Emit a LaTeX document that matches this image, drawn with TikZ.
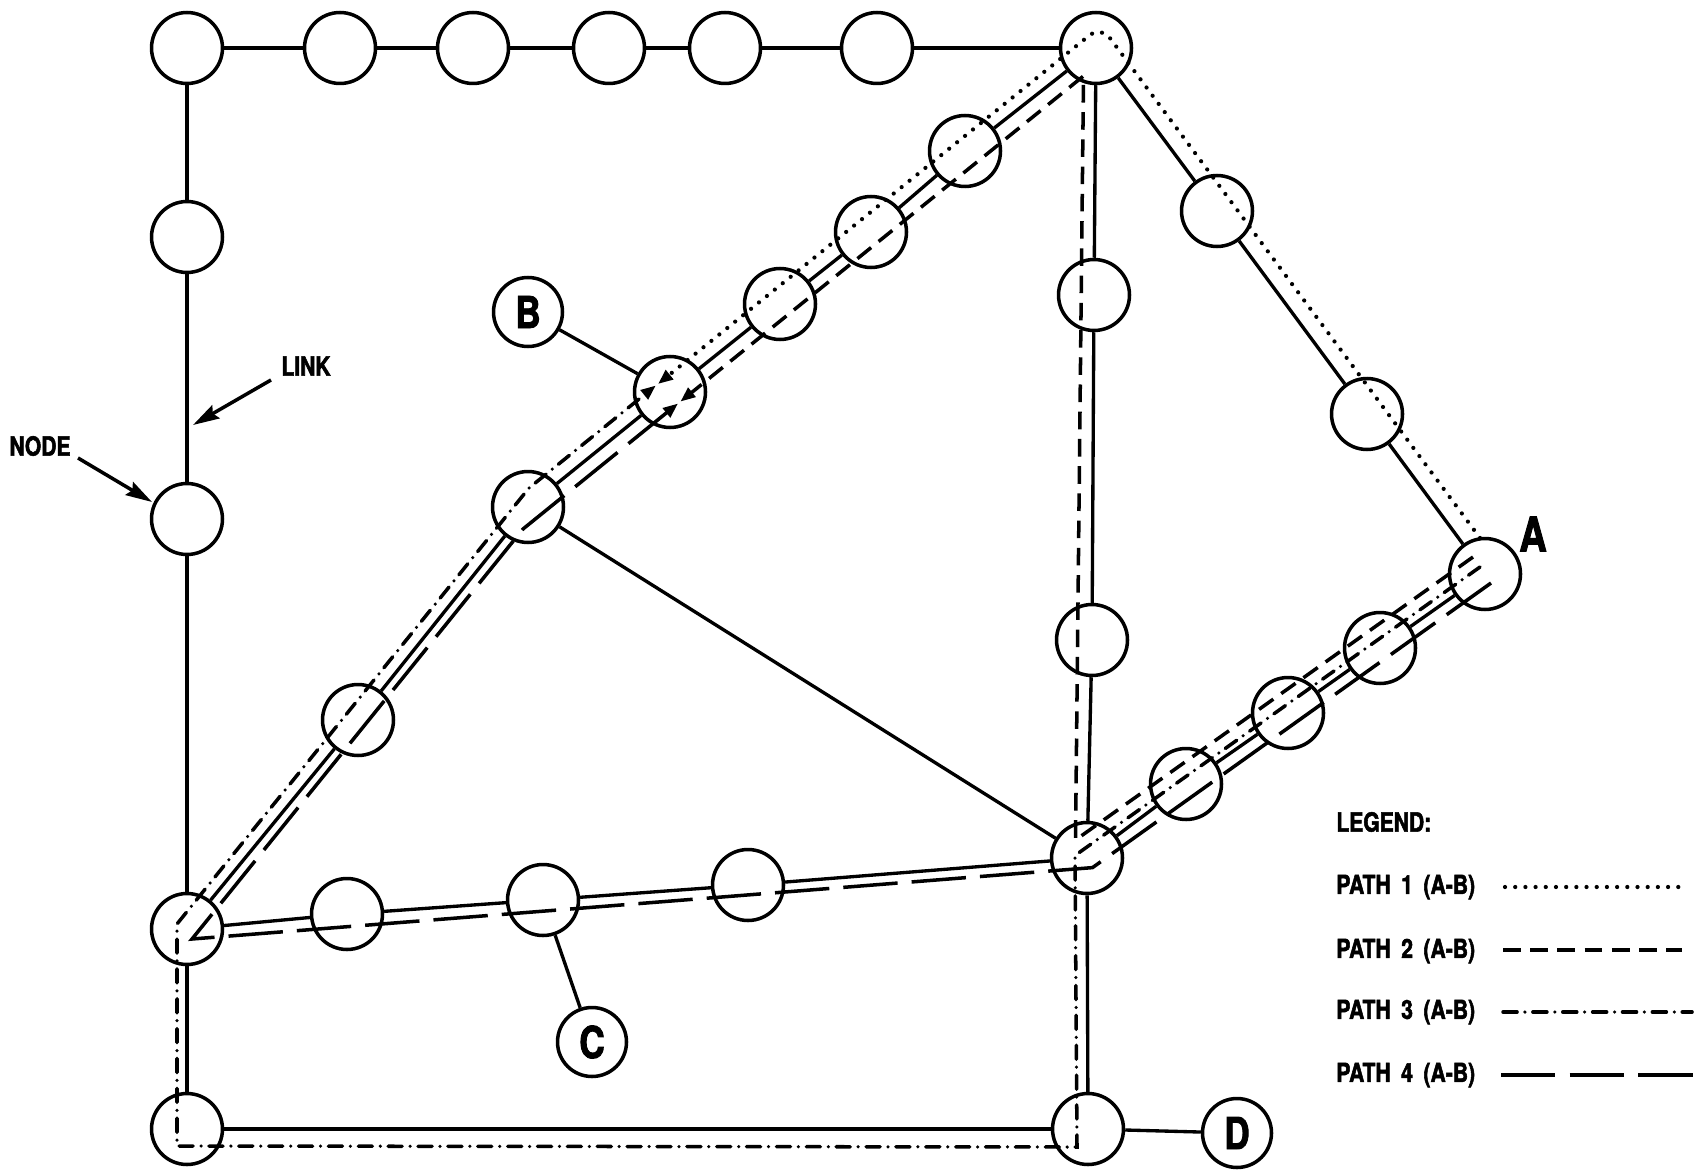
\documentclass[tikz,border=0pt]{standalone}
\usepackage{fontspec}
\newfontfamily\lblfont[FakeStretch=0.8,FakeBold=2]{TeX Gyre Heros}
\usetikzlibrary{arrows.meta,calc}

\tikzset{
  nd/.style={circle,draw,fill=white,line width=2pt,minimum size=1.42cm,inner sep=0pt},
  lbl/.style={nd,minimum size=1.38cm,font=\lblfont\bfseries\fontsize{25}{25}\selectfont},
  lnk/.style={line width=1.9pt},
  pone/.style={line width=2.4pt,line cap=round,dash pattern=on 0pt off 5.8pt},
  ptwo/.style={line width=2pt,dash pattern=on 10pt off 5.5pt},
  pthree/.style={line width=2pt,line cap=round,dash pattern=on 8pt off 4.5pt on 0pt off 4.5pt},
  pfour/.style={line width=2pt,dash pattern=on 31pt off 8pt},
  tip/.style={-{Triangle[length=8.5pt,width=6.5pt]}},
  annot/.style={line width=2pt,-{Stealth[length=15pt,width=8.5pt,inset=2pt]}},
  txt/.style={font=\lblfont\bfseries\fontsize{15}{18}\selectfont,inner sep=0pt},
}

\begin{document}
\begin{tikzpicture}[x=0.02cm,y=-0.02cm]
  \fill[white] (0,0) rectangle (1702,1172);
  \useasboundingbox (0,0) rectangle (1702,1172);

  % network nodes
  \node[nd] (t1) at (187,48) {};
  \node[nd] (t2) at (340,48) {};
  \node[nd] (t3) at (473,48) {};
  \node[nd] (t4) at (609,48) {};
  \node[nd] (t5) at (725,48) {};
  \node[nd] (t6) at (877,48) {};
  \node[nd] (T)  at (1096,48) {};
  \node[nd] (l1) at (187,237) {};
  \node[nd] (l2) at (187,519) {};
  \node[nd] (LB) at (187,929) {};
  \node[nd] (LL) at (187,1129) {};
  \node[nd] (d1) at (358,720) {};
  \node[nd] (M)  at (528,507) {};
  \node[nd] (Bn) at (670,392) {};
  \node[nd] (u2) at (780,304) {};
  \node[nd] (u3) at (871,232) {};
  \node[nd] (u4) at (965,151) {};
  \node[nd] (r1) at (1094,295) {};
  \node[nd] (r2) at (1092,640) {};
  \node[nd] (BR) at (1087,858) {};
  \node[nd] (BB) at (1088,1129) {};
  \node[nd] (s1) at (1217,211) {};
  \node[nd] (s2) at (1367,414) {};
  \node[nd] (A)  at (1485,574) {};
  \node[nd] (a1) at (1380,648) {};
  \node[nd] (a2) at (1288,713) {};
  \node[nd] (a3) at (1186,784) {};
  \node[nd] (b1) at (347,914) {};
  \node[nd] (b2) at (543,900) {};
  \node[nd] (b3) at (748,885) {};
  \node[lbl] (B) at (528,312) {B};
  \node[lbl] (C) at (592,1042) {C};
  \node[lbl] (D) at (1237,1133) {D};
  \node[txt,font=\lblfont\bfseries\fontsize{27}{27}\selectfont] (Atxt) at (1533,534) {A};

  % links
  \foreach \a/\b in {t1/t2,t2/t3,t3/t4,t4/t5,t5/t6,t6/T,
                     t1/l1,l1/l2,l2/LB,LB/LL,
                     LB/d1,d1/M,M/Bn,Bn/u2,u2/u3,u3/u4,u4/T,
                     T/r1,r1/r2,r2/BR,BR/BB,
                     T/s1,s1/s2,s2/A,
                     A/a1,a1/a2,a2/a3,a3/BR,
                     LB/b1,b1/b2,b2/b3,b3/BR,
                     LL/BB,BB/D,M/BR,B/Bn,C/b2}
    \draw[lnk] (\a) -- (\b);

  % path 1 corners
  \coordinate (p1a) at (1480,538);
  \coordinate (p1b) at (1101,26);
  \coordinate (p1c) at (658,384);
  % path 2 corners
  \coordinate (p2a) at (1473,557);
  \coordinate (p2b) at (1075.5,840);
  \coordinate (p2c) at (1083.5,76);
  \coordinate (p2d) at (680.4,401.6);
  % path 3 corners
  \coordinate (p3a) at (1480,567);
  \coordinate (p3b) at (1075,855.5);
  \coordinate (p3c) at (1077,1147);
  \coordinate (p3d) at (177,1146);
  \coordinate (p3e) at (177,924);
  \coordinate (p3f) at (529,488);
  \coordinate (p3g) at (655.8,385.5);
  % path 4 corners
  \coordinate (p4a) at (1491,583);
  \coordinate (p4b) at (1092.5,867.6);
  \coordinate (p4c) at (192,939);
  \coordinate (p4d) at (523,529);
  \coordinate (p4e) at (678,403.5);

  \draw[pone,tip,rounded corners=0.3cm] (p1a) -- (p1b) -- (p1c);
  \draw[ptwo,tip] (p2a) -- (p2b) -- (p2c) -- (p2d);
  \draw[pthree,tip] (p3a) -- (p3b) -- (p3c) -- (p3d) -- (p3e) -- (p3f) -- (p3g);
  \draw[pfour,tip] (p4a) -- (p4b) -- (p4c) -- (p4d) -- (p4e);

  % callouts
  \node[txt] (nodetxt) at (40,446) {NODE};
  \node[txt] (linktxt) at (306,366) {LINK};
  \coordinate (nodefrom) at (78,458);
  \coordinate (nodeto) at (152,502);
  \coordinate (linkfrom) at (271,380);
  \coordinate (linkto) at (193,425);
  \draw[annot] (nodefrom) -- (nodeto);
  \draw[annot] (linkfrom) -- (linkto);

  % legend
  \node[txt,anchor=west] (leg) at (1336,822) {LEGEND:};
  \node[txt,anchor=west] (k1) at (1336,887) {PATH\hspace{0.4em}1\hspace{0.4em}(A-B)};
  \node[txt,anchor=west] (k2) at (1336,951) {PATH\hspace{0.4em}2\hspace{0.4em}(A-B)};
  \node[txt,anchor=west] (k3) at (1336,1012) {PATH\hspace{0.4em}3\hspace{0.4em}(A-B)};
  \node[txt,anchor=west] (k4) at (1336,1075) {PATH\hspace{0.4em}4\hspace{0.4em}(A-B)};
  \coordinate (k1s) at (1505,887);  \coordinate (k1t) at (1688,887);
  \coordinate (k2s) at (1503,950);  \coordinate (k2t) at (1682,950);
  \coordinate (k3s) at (1503,1012); \coordinate (k3t) at (1692,1012);
  \coordinate (k4s) at (1501,1075); \coordinate (k4t) at (1702,1075);
  \draw[pone] (k1s) -- (k1t);
  \draw[ptwo] (k2s) -- (k2t);
  \draw[pthree] (k3s) -- (k3t);
  \draw[pfour] (k4s) -- (k4t);
\end{tikzpicture}
\end{document}
